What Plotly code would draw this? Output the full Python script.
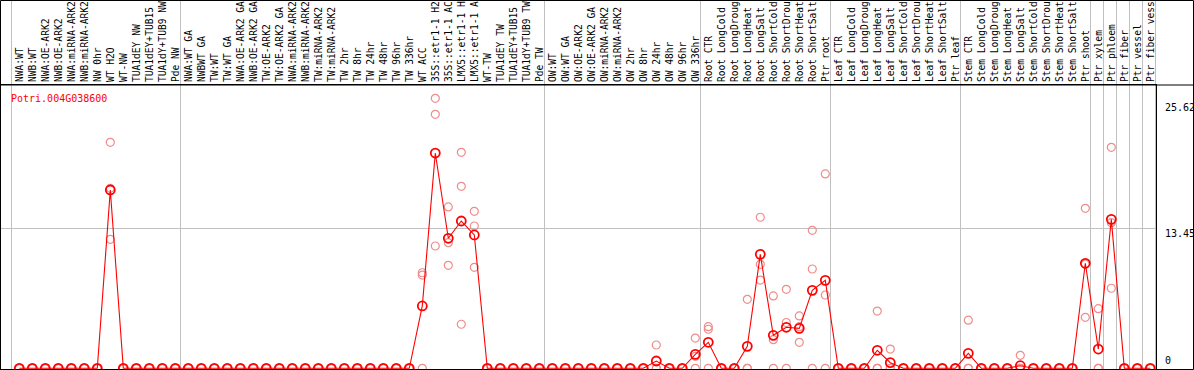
import plotly.graph_objects as go

labels = [
    "NWA:WT", "NWB:WT", "NWA:OE-ARK2", "NWB:OE-ARK2", "NWA:miRNA-ARK2", "NWB:miRNA-ARK2",
    "NW 0hr", "WT H2O", "WT-NW", "TUA1dEY NW", "TUA1dEY+TUB15 NW", "TUA1dY+TUB9 NW", "Pde NW",
    "NWA:WT GA", "NWBWT GA", "TW:WT", "TW:WT GA", "NWA:OE-ARK2 GA", "NWB:OE-ARK2 GA",
    "TW:OE-ARK2", "TW:OE-ARK2 GA", "NWA:miRNA-ARK2", "NWB:miRNA-ARK2", "TW:miRNA-ARK2",
    "TW:miRNA-ARK2", "TW 2hr", "TW 8hr", "TW 24hr", "TW 48hr", "TW 96hr", "TW 336hr",
    "WT ACC", "35S::etr1-1 H2O", "35S::etr1-1 ACC", "LMX5::etr1-1 H2O", "LMX5::etr1-1 ACC",
    "WT-TW", "TUA1dEY TW", "TUA1dEY+TUB15 TW", "TUA1dY+TUB9 TW", "Pde TW",
    "OW:WT", "OW:WT GA", "OW:OE-ARK2", "OW:OE-ARK2 GA", "OW:miRNA-ARK2", "OW:miRNA-ARK2",
    "OW 2hr", "OW 8hr", "OW 24hr", "OW 48hr", "OW 96hr", "OW 336hr",
    "Root CTR", "Root LongCold", "Root LongDrought", "Root LongHeat", "Root LongSalt",
    "Root ShortCold", "Root ShortDrought", "Root ShortHeat", "Root ShortSalt", "Ptr root",
    "Leaf CTR", "Leaf LongCold", "Leaf LongDrought", "Leaf LongHeat", "Leaf LongSalt",
    "Leaf ShortCold", "Leaf ShortDrought", "Leaf ShortHeat", "Leaf ShortSalt", "Ptr leaf",
    "Stem CTR", "Stem LongCold", "Stem LongDrought", "Stem LongHeat", "Stem LongSalt",
    "Stem ShortCold", "Stem ShortDrought", "Stem ShortHeat", "Stem ShortSalt", "Ptr shoot",
    "Ptr xylem", "Ptr phloem", "Ptr fiber", "Ptr vessel", "Ptr fiber vessel",
]

# group sizes (consecutive samples between the separators)
group_sizes = [13, 28, 12, 10, 10, 10, 1, 1, 1, 1, 1]

mean_values = [0.0] * 88
_mean_nonzero = {
    7: 17.13, 31: 5.99, 32: 20.68, 33: 12.49, 34: 14.15, 35: 12.81,
    49: 0.70, 52: 1.34, 53: 2.50, 56: 2.11, 57: 10.95, 58: 3.17, 59: 3.94,
    60: 3.84, 61: 7.49, 62: 8.45, 66: 1.73, 67: 0.54, 73: 1.44, 77: 0.25,
    82: 10.09, 83: 1.85, 84: 14.31,
}
for k, v in _mean_nonzero.items():
    mean_values[k] = v

rep1 = [0.0] * 88
rep2 = [0.0] * 88
rep3 = [0.0] * 88
_reps = {
    7: (21.71, 17.29, 12.39), 31: (9.18, 8.96, 0), 32: (25.94, 24.40, 11.75),
    33: (15.50, 12.07, 9.89), 34: (20.75, 17.48, 4.23), 35: (15.08, 13.67, 9.70),
    49: (2.24, 0, 0), 52: (2.90, 1.15, 0), 53: (4.00, 3.75, 0), 56: (6.63, 0, 0),
    57: (14.51, 9.99, 8.48), 58: (6.95, 2.75, 0), 59: (7.59, 4.40, 0),
    60: (5.03, 4.00, 2.50), 61: (13.26, 9.54, 0), 62: (18.67, 7.04, 0),
    66: (5.50, 0, 0), 67: (1.85, 0, 0), 73: (4.62, 0, 0), 77: (1.25, 0, 0),
    82: (15.37, 10.0, 4.90), 83: (5.73, 0, 0), 84: (21.23, 13.99, 7.69),
}
for k, (a, b, c) in _reps.items():
    rep1[k], rep2[k], rep3[k] = a, b, c

gene_name = "Potri.004G038600"
y_tick_values = [25.62, 13.45, 0]
y_tick_text = ["25.62", "13.45", "0"]

W, H = 1194, 370
L, R, T, B = 1, 38, 85, 1
pw, ph = W - L - R, H - T - B

x_idx = list(range(len(labels)))
mono = "DejaVu Sans Mono"

fig = go.Figure()
for rep in (rep1, rep2, rep3):
    fig.add_trace(go.Scatter(
        x=x_idx, y=rep, mode="markers", cliponaxis=False, showlegend=False,
        hoverinfo="skip",
        marker=dict(symbol="circle-open", size=8, color="#f08c8c", line=dict(width=1.2)),
    ))
fig.add_trace(go.Scatter(
    x=x_idx, y=mean_values, mode="lines+markers", cliponaxis=False, showlegend=False,
    hoverinfo="skip",
    line=dict(color="#ff0000", width=1.1),
    marker=dict(symbol="circle-open", size=9, color="#ff0000", line=dict(width=1.8)),
))

xr0, xr1 = -1.4077, 87.438
yr0, yr1 = -0.067, 27.217

shapes = []
# group separators
pos = -0.6
bounds = [pos]
for g in group_sizes:
    pos += g
    bounds.append(pos)
for b in bounds:
    px = (b - xr0) / (xr1 - xr0)
    shapes.append(dict(type="line", xref="paper", yref="paper", x0=px, x1=px,
                       y0=0, y1=(H - B) / ph, line=dict(color="#c0c0c0", width=1), layer="below"))
# frame lines
ytop = (H - B - 0.5) / ph
xl = (0.5 - L) / pw
xr = (W - 0.5 - L) / pw
shapes.append(dict(type="rect", xref="paper", yref="paper", x0=xl, x1=xr, y0=(H - B - H + 0.5) / ph, y1=ytop,
                   line=dict(color="black", width=1)))
shapes.append(dict(type="line", xref="paper", yref="paper", x0=xl, x1=xr, y0=1, y1=1,
                   line=dict(color="black", width=1)))

annotations = [dict(text=gene_name, xref="paper", yref="paper", x=(9 - L) / pw, y=1 - 6 / ph,
                    xanchor="left", yanchor="top", showarrow=False,
                    font=dict(family=mono, size=10, color="#ff0000"))]
for v, t in zip(y_tick_values, y_tick_text):
    annotations.append(dict(text=t, xref="paper", yref="y", x=(1163 - L) / pw, y=v,
                            xanchor="left", yanchor="bottom" if v == 0 else "top",
                            yshift=2 if v != 0 else 0, showarrow=False,
                            font=dict(family=mono, size=10, color="black")))

fig.update_layout(
    width=W, height=H, margin=dict(l=L, r=R, t=T, b=B, autoexpand=False),
    paper_bgcolor="white", plot_bgcolor="white",
    shapes=shapes, annotations=annotations, hovermode=False,
    xaxis=dict(range=[xr0, xr1], side="top", tickmode="array", tickvals=x_idx, ticktext=labels,
               tickangle=-90, tickfont=dict(family=mono, size=9.6, color="black"),
               ticklabelshift=1,
               showgrid=False, zeroline=False, showline=True, linecolor="black", linewidth=1,
               mirror=True, ticks="", automargin=False),
    yaxis=dict(range=[yr0, yr1], tickmode="array", tickvals=[13.45], showticklabels=False,
               showgrid=True, gridcolor="#c0c0c0", gridwidth=1, zeroline=False,
               showline=True, linecolor="black", linewidth=1, mirror=True, ticks="",
               automargin=False),
)

fig.write_html(
    "out.html",
    config={"displayModeBar": False, "staticPlot": True},
    post_script="document.body.style.margin='0';document.body.style.padding='0';"
                "document.body.style.overflow='hidden';",
)
